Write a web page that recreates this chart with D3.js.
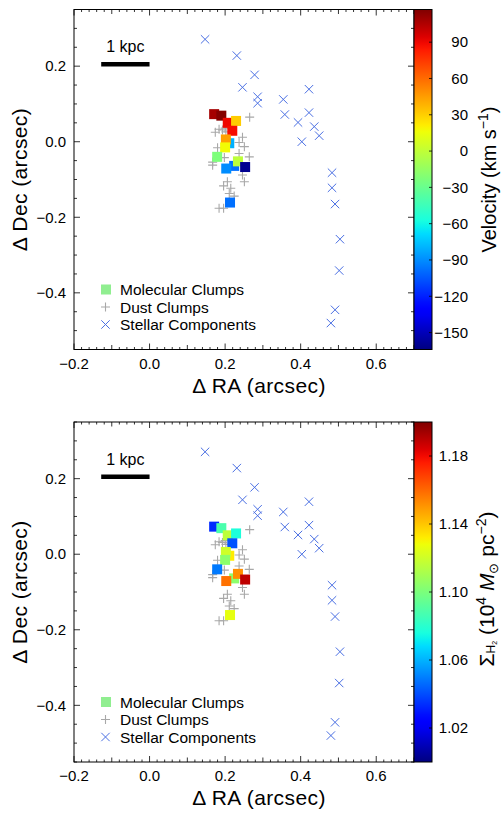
<!DOCTYPE html>
<html>
<head>
<meta charset="utf-8">
<script src="https://cdn.jsdelivr.net/npm/d3@7"></script>
<style>
  body { margin: 0; background: #fff; }
  text { font-family: "Liberation Sans", Arial, sans-serif; fill: #000; }
</style>
</head>
<body>
<div id="chart"></div>
<script>
// Clump positions: molecular clumps, dust clumps, stellar components
const starRA  = [0.147, 0.231, 0.278, 0.246, 0.286, 0.286, 0.354, 0.358, 0.422, 0.422, 0.393,
                 0.436, 0.449, 0.403, 0.483, 0.483, 0.491, 0.504, 0.502, 0.491, 0.480];
const starDec = [0.271, 0.228, 0.177, 0.144, 0.119, 0.102, 0.112, 0.072, 0.139, 0.077, 0.051,
                 0.040, 0.016, 0.000, -0.082, -0.122, -0.165, -0.258, -0.341, -0.445, -0.480];

const dustRA  = [0.265, 0.174, 0.184, 0.193, 0.202, 0.200, 0.246, 0.237, 0.251, 0.180, 0.198, 0.237,
                 0.264, 0.167, 0.167, 0.246, 0.251, 0.206, 0.196, 0.215, 0.211, 0.224, 0.184, 0.196];
const dustDec = [0.065, 0.025, 0.033, 0.031, 0.026, 0.036, 0.012, -0.002, -0.013, -0.016, -0.042, -0.031,
                 -0.040, -0.054, -0.062, -0.088, -0.106, -0.106, -0.117, -0.123, -0.137, -0.144, -0.176, -0.176];

const clumpRA    = [0.171, 0.190, 0.207, 0.229, 0.219, 0.211, 0.202, 0.200, 0.179, 0.224, 0.203, 0.234, 0.253, 0.213];
const clumpDec   = [0.073, 0.069, 0.050, 0.055, 0.029, -0.004, 0.006, -0.015, -0.040, -0.064, -0.071, -0.052, -0.067, -0.161];
const clumpVel   = [108, 116, 90, 31, 88, -80, 44, 17, -23, -98, -90, -1, -160, -98];
const clumpSigma = [1.033, 1.088, 1.116, 1.077, 1.041, 1.132, 1.120, 1.104, 1.049, 1.104, 1.158, 1.152, 1.189, 1.126];

const velTicks = [90, 60, 30, 0, -30, -60, -90, -120, -150];
const sigTicks = [1.18, 1.14, 1.10, 1.06, 1.02];
const legendLabels = ["Molecular Clumps", "Dust Clumps", "Stellar Components"];

// matplotlib jet
function jet(t) {
    t = Math.max(0, Math.min(1, t));
    const seg = (pts) => {
        for (let i = 1; i < pts.length; i++) {
            if (t <= pts[i][0]) {
                const [x0, y0] = pts[i - 1], [x1, y1] = pts[i];
                return y0 + (y1 - y0) * (t - x0) / (x1 - x0);
            }
        }
        return pts[pts.length - 1][1];
    };
    const r = seg([[0, 0], [0.35, 0], [0.66, 1], [0.89, 1], [1, 0.5]]);
    const g = seg([[0, 0], [0.125, 0], [0.375, 1], [0.64, 1], [0.91, 0], [1, 0]]);
    const b = seg([[0, 0.5], [0.11, 1], [0.34, 1], [0.65, 0], [1, 0]]);
    return d3.rgb(r * 255, g * 255, b * 255).toString();
}

const W = 502, H = 815;
const left = 74, plotW = 340, plotH = 340, cbW = 18;
const starColor = "#4a6fe3", dustColor = "#a8a8a8";

const svg = d3.select("#chart").append("svg")
    .attr("width", W).attr("height", H);

const x = d3.scaleLinear().domain([-0.2, 0.7]).range([0, plotW]);
const y = d3.scaleLinear().domain([-0.55, 0.35]).range([plotH, 0]);

function panel(top, values, cdomain, cticks, tickFmt, idx) {
    const g = svg.append("g").attr("transform", `translate(${left},${top})`);
    const cscale = d3.scaleLinear().domain(cdomain).range([0, 1]);

    // ticks, inward on all four sides
    const xt = d3.range(-0.2, 0.7001, 0.02);
    xt.forEach(v => {
        const k = Math.round(v * 50);
        const len = k % 10 === 0 ? 6 : (k % 5 === 0 ? 4.5 : 2.5);
        [[plotH, -len], [0, len]].forEach(([y0, d]) => {
            g.append("line").attr("x1", x(v)).attr("x2", x(v))
                .attr("y1", y0).attr("y2", y0 + d)
                .attr("stroke", "#000").attr("stroke-width", 0.8);
        });
    });
    const yt = d3.range(-0.55, 0.3501, 0.05);
    yt.forEach(v => {
        const k = Math.round(v * 20);
        const len = k % 4 === 0 ? 6 : 3;
        [[0, len], [plotW, -len]].forEach(([x0, d]) => {
            g.append("line").attr("y1", y(v)).attr("y2", y(v))
                .attr("x1", x0).attr("x2", x0 + d)
                .attr("stroke", "#000").attr("stroke-width", 0.8);
        });
    });

    // tick labels
    [-0.2, 0, 0.2, 0.4, 0.6].forEach(v => {
        g.append("text").attr("x", x(v)).attr("y", plotH + 19)
            .attr("text-anchor", "middle").attr("font-size", 15)
            .text(d3.format(".1f")(v).replace("-", "\u2212"));
    });
    [-0.4, -0.2, 0, 0.2].forEach(v => {
        g.append("text").attr("x", -8).attr("y", y(v)).attr("dy", "0.35em")
            .attr("text-anchor", "end").attr("font-size", 15)
            .text(d3.format(".1f")(v).replace("-", "\u2212"));
    });

    // axis titles
    g.append("text").attr("x", 185).attr("y", plotH + 43)
        .attr("text-anchor", "middle").attr("font-size", 21)
        .attr("letter-spacing", 0.4)
        .text("\u0394 RA (arcsec)");
    g.append("text").attr("transform", `translate(-47,${plotH / 2}) rotate(-90)`)
        .attr("text-anchor", "middle").attr("font-size", 21)
        .attr("letter-spacing", 0.4)
        .text("\u0394 Dec (arcsec)");

    // scale bar
    g.append("line").attr("x1", x(-0.128)).attr("x2", x(0))
        .attr("y1", y(0.205)).attr("y2", y(0.205))
        .attr("stroke", "#000").attr("stroke-width", 4.5);
    g.append("text").attr("x", x(-0.064)).attr("y", y(0.205) - 12)
        .attr("text-anchor", "middle").attr("font-size", 16).text("1 kpc");

    // stellar components
    const s = 4.2;
    starRA.forEach((ra, i) => {
        const cx = x(ra), cy = y(starDec[i]);
        g.append("path").attr("d", `M${cx - s},${cy - s}L${cx + s},${cy + s}M${cx - s},${cy + s}L${cx + s},${cy - s}`)
            .attr("stroke", starColor).attr("stroke-width", 1).attr("fill", "none");
    });
    // dust clumps
    const p = 4.5;
    dustRA.forEach((ra, i) => {
        const cx = x(ra), cy = y(dustDec[i]);
        g.append("path").attr("d", `M${cx - p},${cy}L${cx + p},${cy}M${cx},${cy - p}L${cx},${cy + p}`)
            .attr("stroke", dustColor).attr("stroke-width", 1.1).attr("fill", "none");
    });
    // molecular clumps
    const q = 10;
    g.selectAll(".clump").data(clumpRA).enter().append("rect")
        .attr("x", (d) => x(d) - q / 2)
        .attr("y", (d, i) => y(clumpDec[i]) - q / 2)
        .attr("width", q).attr("height", q)
        .attr("fill", (d, i) => jet(cscale(values[i])));

    // legend
    const ly = [289.5, 307, 324.5].map(v => v - 9.5);
    g.append("rect").attr("x", 106 - left - 5).attr("y", ly[0] - 5).attr("width", 10).attr("height", 10)
        .attr("fill", "#90ee90");
    const lx = 105.5 - left;
    g.append("path").attr("d", `M${lx - p},${ly[1]}L${lx + p},${ly[1]}M${lx},${ly[1] - p}L${lx},${ly[1] + p}`)
        .attr("stroke", dustColor).attr("stroke-width", 1.1).attr("fill", "none");
    g.append("path").attr("d", `M${lx - s},${ly[2] - s}L${lx + s},${ly[2] + s}M${lx - s},${ly[2] + s}L${lx + s},${ly[2] - s}`)
        .attr("stroke", starColor).attr("stroke-width", 1).attr("fill", "none");
    legendLabels.forEach((t, i) => {
        g.append("text").attr("x", 120 - left).attr("y", ly[i]).attr("dy", "0.36em")
            .attr("font-size", 15.5).text(t);
    });

    // frame
    g.append("rect").attr("width", plotW).attr("height", plotH)
        .attr("fill", "none").attr("stroke", "#000").attr("stroke-width", 1);

    // colorbar
    const cb = g.append("g").attr("transform", `translate(${plotW},0)`);
    const cy = d3.scaleLinear().domain(cdomain).range([plotH, 0]);
    const grad = svg.append("defs").append("linearGradient")
        .attr("id", "grad" + idx).attr("x1", 0).attr("x2", 0).attr("y1", 1).attr("y2", 0);
    d3.range(0, 1.0001, 0.02).forEach(t => {
        grad.append("stop").attr("offset", t).attr("stop-color", jet(t));
    });
    cb.append("rect").attr("width", cbW).attr("height", plotH)
        .attr("fill", `url(#grad${idx})`).attr("stroke", "#000").attr("stroke-width", 1);
    cticks.forEach(v => {
        cb.append("line").attr("x1", cbW).attr("x2", cbW - 3)
            .attr("y1", cy(v)).attr("y2", cy(v)).attr("stroke", "#000").attr("stroke-width", 0.8);
        cb.append("text").attr("x", 468 - left - plotW).attr("y", cy(v)).attr("dy", "0.35em")
            .attr("text-anchor", "end").attr("font-size", 15).text(tickFmt(v));
    });
    return cb;
}

const cb1 = panel(9.5, clumpVel, [-164, 117], velTicks, v => String(v).replace("-", "\u2212"), 1);
const t1 = cb1.append("text").attr("transform", `translate(82,${plotH / 2}) rotate(-90)`)
    .attr("text-anchor", "middle").attr("font-size", 20);
t1.append("tspan").text("Velocity (km s");
t1.append("tspan").attr("dy", -8).attr("font-size", 14).text("\u22121");
t1.append("tspan").attr("dy", 8).text(")");

const cb2 = panel(422, clumpSigma, [1.0, 1.2], sigTicks, v => d3.format(".2f")(v), 2);
const t2 = cb2.append("text").attr("transform", `translate(80,${plotH / 2 - 3}) rotate(-90)`)
    .attr("text-anchor", "middle").attr("font-size", 21);
t2.append("tspan").text("\u03A3");
t2.append("tspan").attr("font-size", 12).attr("dy", 1).text("H");
t2.append("tspan").attr("font-size", 7).attr("dy", 2).text("2");
t2.append("tspan").attr("dy", -3).text(" (10");
t2.append("tspan").attr("dy", -8).attr("font-size", 14).text("4");
t2.append("tspan").attr("dy", 8).text(" ");
t2.append("tspan").attr("font-style", "italic").text("M");
t2.append("tspan").attr("font-size", 13).attr("dy", 4).text("\u2299");
t2.append("tspan").attr("dy", -4).text(" pc");
t2.append("tspan").attr("dy", -8).attr("font-size", 14).text("\u22122");
t2.append("tspan").attr("dy", 8).text(")");
</script>
</body>
</html>
